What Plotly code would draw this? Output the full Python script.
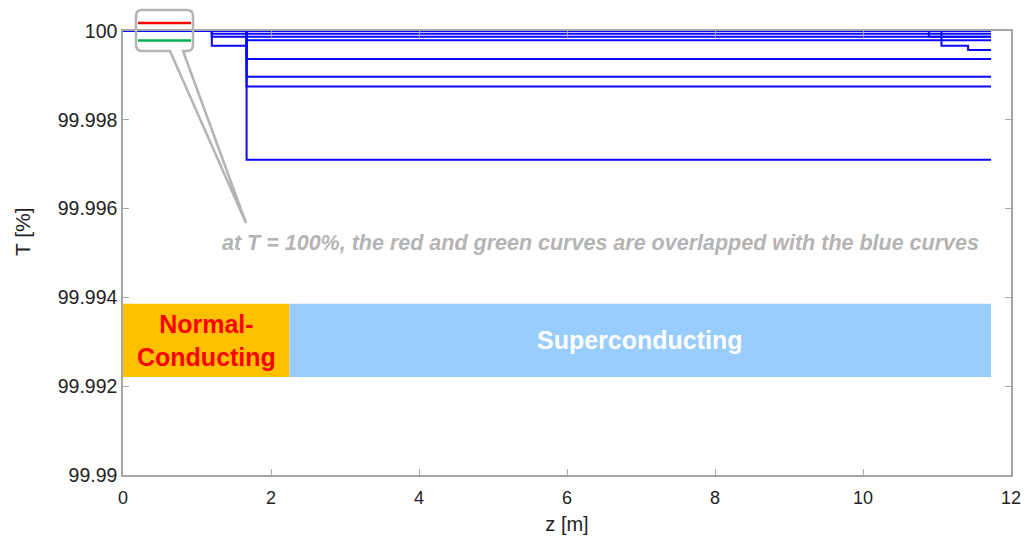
import plotly.graph_objects as go

# Transmission T [%] along the magnet length z [m]; each curve is a staircase
# (level T[i] holds from z[i] up to z[i+1]).
z_end = 11.73
curves_z = [
    [0, z_end],
    [0, 1.2, z_end],
    [0, 1.2, 1.67, z_end],
    [0, 1.2, 1.67, z_end],
    [0, 1.67, z_end],
    [0, 1.67, z_end],
    [0, 1.67, z_end],
    [0, 1.67, z_end],
    [0, 10.89, z_end],
    [0, 11.06, 11.42, z_end],
]
curves_T = [
    [100, 100],
    [100, 99.99994, 99.99994],
    [100, 99.99967, 99.99979, 99.99979],
    [100, 99.99987, 99.99987, 99.99987],
    [100, 99.99937, 99.99937],
    [100, 99.99897, 99.99897],
    [100, 99.99875, 99.99875],
    [100, 99.99710, 99.99710],
    [100, 99.99987, 99.99987],
    [100, 99.99967, 99.99957, 99.99957],
]
# red and green curves stay at 100 % over the whole length
red_z, red_T = [0, z_end], [100, 100]
green_z, green_T = [0, z_end], [100, 100]

# conducting regions
normal_z = [0, 2.25]
super_z = [2.25, z_end]
band_T = [99.992209, 99.993858]

x_ticks = [0, 2, 4, 6, 8, 10, 12]
y_ticks = [99.99, 99.992, 99.994, 99.996, 99.998, 100]
y_tick_text = ["99.99", "99.992", "99.994", "99.996", "99.998", "100"]

W, H = 1025, 540
ML, MR, MT, MB = 123, 14, 31, 65
PW, PH = W - ML - MR, H - MT - MB
FONT = "Liberation Sans, Arial"


def px(x):
    return (x - ML) / PW


def py(y):
    return (H - MB - y) / PH


fig = go.Figure()

fig.add_trace(go.Scatter(x=red_z, y=red_T, mode="lines", line=dict(color="#ff0000", width=2),
                         line_shape="hv", showlegend=False, hoverinfo="skip"))
fig.add_trace(go.Scatter(x=green_z, y=green_T, mode="lines", line=dict(color="#00b050", width=2),
                         line_shape="hv", showlegend=False, hoverinfo="skip"))
for zs, ts in zip(curves_z, curves_T):
    fig.add_trace(go.Scatter(x=zs, y=ts, mode="lines", line=dict(color="#0a0aff", width=2),
                             line_shape="hv", showlegend=False, hoverinfo="skip"))

# region bands
fig.add_shape(type="rect", xref="x", yref="y", x0=normal_z[0], x1=normal_z[1],
              y0=band_T[0], y1=band_T[1], fillcolor="#ffc000", line_width=0, layer="below")
fig.add_shape(type="rect", xref="x", yref="y", x0=super_z[0], x1=super_z[1],
              y0=band_T[0], y1=band_T[1], fillcolor="#99ccff", line_width=0, layer="below")

band_mid = (band_T[0] + band_T[1]) / 2
fig.add_annotation(x=(normal_z[0] + normal_z[1]) / 2, y=band_mid, xref="x", yref="y",
                   text="<b>Normal-<br>Conducting</b>", showarrow=False,
                   font=dict(family=FONT, size=25, color="#ff0000"))
fig.add_annotation(x=(super_z[0] + super_z[1]) / 2, y=band_mid, xref="x", yref="y",
                   text="<b>Superconducting</b>", showarrow=False,
                   font=dict(family=FONT, size=25, color="#ffffff"))

# callout bubble with the red/green line key
bx0, bx1, by0, by1, r = 136, 193, 10, 51, 6
tail_l, tail_r, tip = 170, 183, (246, 223)
pts = [
    f"M {px(bx0 + r)},{py(by0)}",
    f"L {px(bx1 - r)},{py(by0)}",
    f"Q {px(bx1)},{py(by0)} {px(bx1)},{py(by0 + r)}",
    f"L {px(bx1)},{py(by1 - r)}",
    f"Q {px(bx1)},{py(by1)} {px(bx1 - r)},{py(by1)}",
    f"L {px(tail_r)},{py(by1)}",
    f"L {px(tip[0])},{py(tip[1])}",
    f"L {px(tail_l)},{py(by1)}",
    f"L {px(bx0 + r)},{py(by1)}",
    f"Q {px(bx0)},{py(by1)} {px(bx0)},{py(by1 - r)}",
    f"L {px(bx0)},{py(by0 + r)}",
    f"Q {px(bx0)},{py(by0)} {px(bx0 + r)},{py(by0)}",
    "Z",
]
fig.add_shape(type="path", xref="paper", yref="paper", path=" ".join(pts),
              line=dict(color="#b4b4b4", width=2.5), fillcolor="rgba(0,0,0,0)")
fig.add_shape(type="line", xref="paper", yref="paper", x0=px(138), x1=px(191),
              y0=py(23), y1=py(23), line=dict(color="#ff0000", width=2.5))
fig.add_shape(type="line", xref="paper", yref="paper", x0=px(138), x1=px(191),
              y0=py(40.5), y1=py(40.5), line=dict(color="#00b050", width=2.5))

fig.add_annotation(x=px(600), y=py(243), xref="paper", yref="paper",
                   text="<b><i>at T = 100%, the red and green curves are overlapped with the blue curves</i></b>",
                   showarrow=False,
                   font=dict(family=FONT, size=21.5, color="#b4b4b4"))

# y-axis title
fig.add_annotation(x=px(22), y=py(232), xref="paper", yref="paper", text="T [%]",
                   textangle=-90, showarrow=False, xanchor="center", yanchor="middle",
                   font=dict(family=FONT, size=21, color="#222222"))

axis_common = dict(showgrid=False, zeroline=False, showline=True, linecolor="#a6a6a6",
                   linewidth=1.5, mirror="ticks", ticks="inside", ticklen=6,
                   tickcolor="#a6a6a6", tickwidth=1.2, automargin=False)

fig.update_xaxes(range=[0, 12], tickvals=x_ticks, **axis_common, ticklabelstandoff=6,
                 tickfont=dict(family=FONT, size=18, color="#222222"),
                 title=dict(text="z [m]", font=dict(family=FONT, size=20, color="#222222"),
                            standoff=10))
fig.update_yaxes(range=[99.99, 100], tickvals=y_ticks, ticktext=y_tick_text, **axis_common,
                 tickfont=dict(family=FONT, size=19.5, color="#222222"))

fig.update_layout(width=W, height=H, margin=dict(l=ML, r=MR, t=MT, b=MB),
                  plot_bgcolor="white", paper_bgcolor="white", showlegend=False)

fig.write_html("out.html")
